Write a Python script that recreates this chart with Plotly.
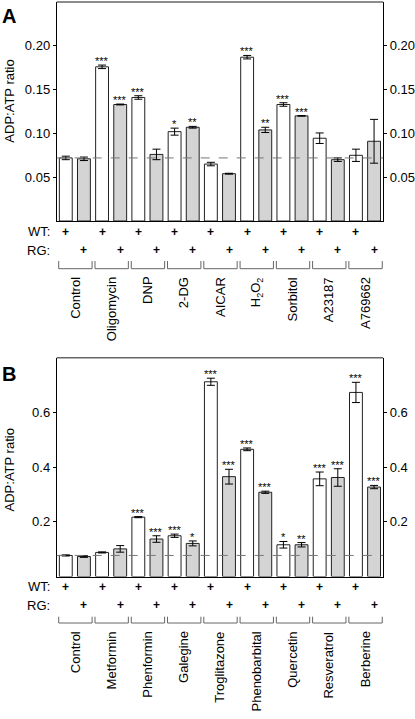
import plotly.graph_objects as go

# ---------------- Data ----------------
treat_a = ["Control", "Oligomycin", "DNP", "2-DG", "AICAR", "H<sub>2</sub>O<sub>2</sub>",
           "Sorbitol", "A23187", "A769662"]
wt_a = [0.072, 0.176, 0.141, 0.102, 0.065, 0.187, 0.133, 0.0945, 0.075]
wt_a_err = [0.002, 0.002, 0.002, 0.004, 0.002, 0.002, 0.002, 0.006, 0.007]
rg_a = [0.071, 0.133, 0.076, 0.107, 0.054, 0.104, 0.120, 0.070, 0.091]
rg_a_err = [0.002, 0.0005, 0.006, 0.001, 0.0005, 0.003, 0.0003, 0.002, 0.025]
wt_a_sig = ["", "***", "***", "*", "", "***", "***", "", ""]
rg_a_sig = ["", "***", "", "**", "", "**", "***", "", ""]
ticks_a = [0.05, 0.10, 0.15, 0.20]
ticktext_a = ["0.05", "0.10", "0.15", "0.20"]

treat_b = ["Control", "Metformin", "Phenformin", "Galegine", "Troglitazone",
           "Phenobarbital", "Quercetin", "Resveratrol", "Berberine"]
wt_b = [0.077, 0.088, 0.217, 0.149, 0.712, 0.465, 0.116, 0.357, 0.673]
wt_b_err = [0.002, 0.002, 0.002, 0.006, 0.013, 0.005, 0.012, 0.025, 0.037]
rg_b = [0.073, 0.101, 0.137, 0.121, 0.365, 0.308, 0.116, 0.362, 0.327]
rg_b_err = [0.003, 0.012, 0.012, 0.009, 0.027, 0.004, 0.008, 0.032, 0.006]
wt_b_sig = ["", "", "***", "***", "***", "***", "*", "***", "***"]
rg_b_sig = ["", "", "***", "*", "***", "***", "**", "***", "***"]
ticks_b = [0.2, 0.4, 0.6]
ticktext_b = ["0.2", "0.4", "0.6"]

FONT = "Liberation Sans, Arial, sans-serif"
GRAY = "#d4d4d4"
EDGE = "#222222"

W, H = 415, 719
def px(y):
    return 1 - y / H

XDOM = [57 / W, 385 / W]

panels = [
    dict(treat=treat_a, wt=wt_a, wte=wt_a_err, rg=rg_a, rge=rg_a_err, wts=wt_a_sig, rgs=rg_a_sig,
         ticks=ticks_a, tt=ticktext_a, yrange=[0, 0.25], top=2, bottom=221,
         wt_row=231.7, rg_row=250.3, br_top=261, br_line=268.7, lab_top=275,
         title_y=100.7, letter="A", letter_y=16),
    dict(treat=treat_b, wt=wt_b, wte=wt_b_err, rg=rg_b, rge=rg_b_err, wts=wt_b_sig, rgs=rg_b_sig,
         ticks=ticks_b, tt=ticktext_b, yrange=[0, 0.8], top=357.7, bottom=576.5,
         wt_row=586.7, rg_row=605.3, br_top=616.7, br_line=623, lab_top=629.3,
         title_y=469.5, letter="B", letter_y=374),
]

fig = go.Figure()
annotations = []
shapes = []

for p_i, p in enumerate(panels):
    xa = "x" if p_i == 0 else "x2"
    ya = "y" if p_i == 0 else "y2"
    yr = "y3" if p_i == 0 else "y4"
    n = len(p["treat"])
    xs, vals, errs, cols, sigs = [], [], [], [], []
    for k in range(n):
        xs += [2 * k, 2 * k + 1]
        vals += [p["wt"][k], p["rg"][k]]
        errs += [p["wte"][k], p["rge"][k]]
        cols += ["white", GRAY]
        sigs += [p["wts"][k], p["rgs"][k]]
    fig.add_trace(go.Bar(
        x=xs, y=vals, xaxis=xa, yaxis=ya, width=0.71,
        marker=dict(color=cols, line=dict(color=EDGE, width=1)),
        error_y=dict(type="data", array=errs, visible=True, color="black", thickness=1, width=4),
        hoverinfo="skip", showlegend=False))
    # significance stars
    for xv, v, e, s in zip(xs, vals, errs, sigs):
        if s:
            annotations.append(dict(xref=xa, yref=ya, x=xv, y=v + e, text=s, showarrow=False,
                                    xanchor="center", yanchor="bottom", yshift=-4,
                                    font=dict(size=11, family=FONT, color="black")))
    # invisible trace for right axis
    fig.add_trace(go.Scatter(x=[0], y=[p["yrange"][0]], xaxis=xa, yaxis=yr, mode="markers",
                             marker=dict(opacity=0), hoverinfo="skip", showlegend=False))

    # control reference dashed line
    shapes.append(dict(type="line", xref=xa + " domain", yref=ya, x0=0, x1=1,
                       y0=p["wt"][0], y1=p["wt"][0],
                       line=dict(color="#777777", width=1, dash="dash")))
    # top frame line
    shapes.append(dict(type="line", xref="paper", yref="paper", x0=XDOM[0], x1=XDOM[1],
                       y0=px(p["top"]), y1=px(p["top"]), line=dict(color="#666666", width=1.5)))

    # WT / RG rows
    for lab, yy in (("WT:", p["wt_row"]), ("RG:", p["rg_row"])):
        annotations.append(dict(xref="paper", yref="paper", x=52 / W, y=px(yy), text=lab,
                                showarrow=False, xanchor="right", yanchor="middle",
                                font=dict(size=13, family=FONT, color="black")))
    for k in range(n):
        annotations.append(dict(xref=xa, yref="paper", x=2 * k, y=px(p["wt_row"]), text="<b>+</b>",
                                showarrow=False, xanchor="center", yanchor="middle",
                                font=dict(size=12, family=FONT, color="black")))
        annotations.append(dict(xref=xa, yref="paper", x=2 * k + 1, y=px(p["rg_row"]), text="<b>+</b>",
                                showarrow=False, xanchor="center", yanchor="middle",
                                font=dict(size=12, family=FONT, color="black")))
        # bracket
        x0, x1 = 2 * k - 0.39, 2 * k + 1.45
        bpath = (f"M {x0},{px(p['br_top'])} L {x0},{px(p['br_line'])} "
                 f"L {x1},{px(p['br_line'])} L {x1},{px(p['br_top'])}")
        shapes.append(dict(type="path", xref=xa, yref="paper", path=bpath,
                           line=dict(color="#666666", width=1)))
        # category label
        annotations.append(dict(xref=xa, yref="paper", x=2 * k + 0.5, y=px(p["lab_top"]),
                                text=p["treat"][k], textangle=-90, showarrow=False,
                                xanchor="center", yanchor="top",
                                font=dict(size=13, family=FONT, color="black")))

    # y title
    annotations.append(dict(xref="paper", yref="paper", x=10 / W, y=px(p["title_y"]),
                            text="ADP:ATP ratio", textangle=-90, showarrow=False,
                            xanchor="center", yanchor="middle",
                            font=dict(size=13, family=FONT, color="black")))
    # panel letter
    annotations.append(dict(xref="paper", yref="paper", x=9 / W, y=px(p["letter_y"]),
                            text="<b>" + p["letter"] + "</b>", showarrow=False,
                            xanchor="center", yanchor="middle",
                            font=dict(size=20, family=FONT, color="black")))

def xaxis_cfg(anchor):
    return dict(domain=XDOM, range=[-0.5, 17.5], showticklabels=False, ticks="",
                showline=True, linecolor="black", linewidth=1, showgrid=False,
                zeroline=False, anchor=anchor, fixedrange=True)

def yaxis_cfg(p, side="left", overlaying=None, anchor="x"):
    d = dict(domain=[px(p["bottom"]), px(p["top"])], range=p["yrange"],
             tickvals=p["ticks"], ticktext=p["tt"], ticks="outside", ticklen=3,
             tickcolor="black", showline=True, linecolor="black", linewidth=1,
             showgrid=False, zeroline=False, side=side, anchor=anchor,
             tickfont=dict(size=13, family=FONT, color="black"), fixedrange=True)
    if overlaying:
        d["overlaying"] = overlaying
        d.pop("domain")
    return d

fig.update_layout(
    width=W, height=H, margin=dict(l=0, r=0, t=0, b=0),
    paper_bgcolor="white", plot_bgcolor="white",
    font=dict(family=FONT, color="black"),
    xaxis=xaxis_cfg("y"), xaxis2=xaxis_cfg("y2"),
    yaxis=yaxis_cfg(panels[0], anchor="x"),
    yaxis2=yaxis_cfg(panels[1], anchor="x2"),
    yaxis3=yaxis_cfg(panels[0], side="right", overlaying="y", anchor="x"),
    yaxis4=yaxis_cfg(panels[1], side="right", overlaying="y2", anchor="x2"),
    annotations=annotations, shapes=shapes, bargap=0,
)

fig.write_html("out.html", config={"displayModeBar": False, "staticPlot": True},
               post_script="document.body.style.margin='0';document.body.style.overflow='hidden';")
